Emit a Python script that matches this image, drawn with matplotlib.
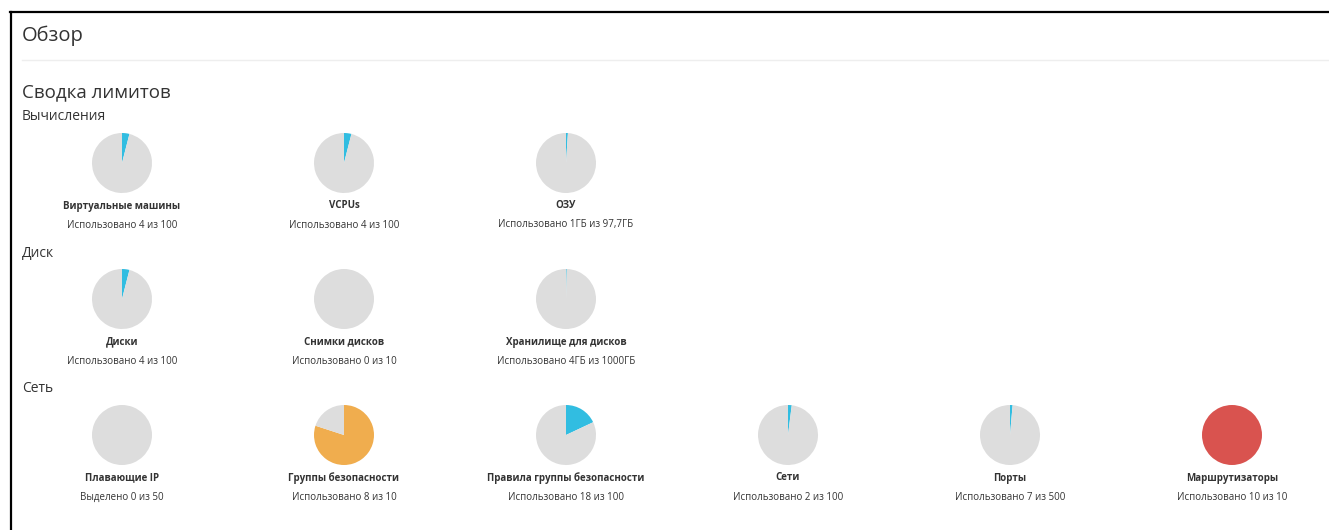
import matplotlib.pyplot as plt

plt.rcParams['font.family'] = ['Open Sans', 'DejaVu Sans']

# data
groups = ['Вычисления', 'Диск', 'Сеть']
names = [
    ['Виртуальные машины', 'VCPUs', 'ОЗУ'],
    ['Диски', 'Снимки дисков', 'Хранилище для дисков'],
    ['Плавающие IP', 'Группы безопасности', 'Правила группы безопасности',
     'Сети', 'Порты', 'Маршрутизаторы'],
]
used = [
    [4, 4, 1],
    [4, 0, 4],
    [0, 8, 18, 2, 7, 10],
]
limits = [
    [100, 100, 97.7],
    [100, 10, 1000],
    [50, 10, 100, 100, 500, 10],
]
captions = [
    ['Использовано 4 из 100', 'Использовано 4 из 100', 'Использовано 1ГБ из 97,7ГБ'],
    ['Использовано 4 из 100', 'Использовано 0 из 10', 'Использовано 4ГБ из 1000ГБ'],
    ['Выделено 0 из 50', 'Использовано 8 из 10', 'Использовано 18 из 100',
     'Использовано 2 из 100', 'Использовано 7 из 500', 'Использовано 10 из 10'],
]

GREY = '#dddddd'
BLUE = '#31bde1'
ORANGE = '#f0ad4e'
RED = '#d9534f'

W, H = 1329, 530


def used_color(u, lim):
    frac = u / lim
    if frac >= 1:
        return RED
    if frac > 0.7:
        return ORANGE
    return BLUE


fig = plt.figure(figsize=(W / 100, H / 100), dpi=100)
bg = fig.add_axes([0, 0, 1, 1])
bg.set_xlim(0, W)
bg.set_ylim(H, 0)
bg.axis('off')

# frame and headers
bg.plot([10, W], [12, 12], color='black', lw=1.6)
bg.plot([11, 11], [12, H], color='black', lw=1.6)
bg.text(22, 36, 'Обзор', fontsize=14.5, color='#333333', va='center')
bg.plot([22, W], [60, 60], color='#eeeeee', lw=1)
bg.text(22, 92, 'Сводка лимитов', fontsize=13.5, color='#333333', va='center')

group_y = [116, 253, 389]
pie_y = [163, 299, 435]
x0, dx, r = 122, 222, 30

for g, gname in enumerate(groups):
    bg.text(22, group_y[g], gname, fontsize=10, color='#333333', va='center')
    for i, name in enumerate(names[g]):
        cx = x0 + i * dx
        cy = pie_y[g]
        ax = fig.add_axes([(cx - r) / W, 1 - (cy + r) / H, 2 * r / W, 2 * r / H])
        u, lim = used[g][i], limits[g][i]
        ax.pie([u, lim - u], colors=[used_color(u, lim), GREY],
               startangle=90, counterclock=False,
               wedgeprops={'linewidth': 0})
        ax.set_xlim(-1, 1)
        ax.set_ylim(-1, 1)
        ax.set_aspect('equal')
        bg.text(cx, cy + 43, name, fontsize=7, fontweight='bold',
                color='#333333', ha='center', va='center')
        bg.text(cx, cy + 62, captions[g][i], fontsize=7,
                color='#333333', ha='center', va='center')

fig.savefig('out.png', dpi=100, facecolor='white')
